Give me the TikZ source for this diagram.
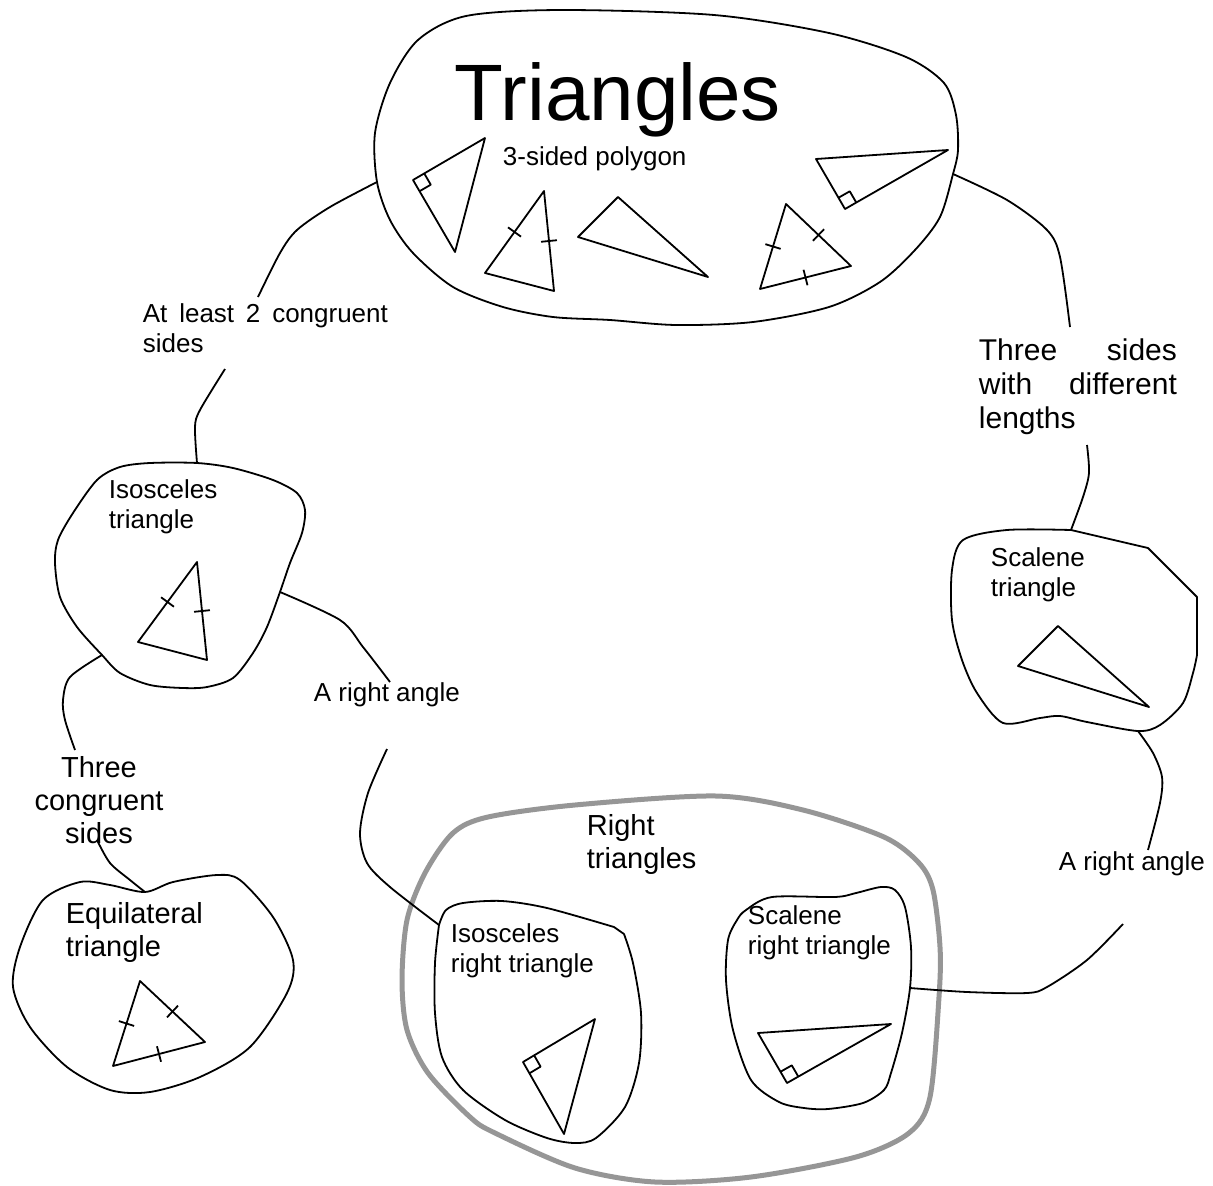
\documentclass[tikz,border=0pt]{standalone}
\usepackage{fontspec}
\setmainfont{Liberation Sans}
\usetikzlibrary{calc}
\definecolor{rimgray}{RGB}{150,150,150}

\begin{document}
\begin{tikzpicture}[x=1pt,y=-1pt,line width=1.8pt,line join=round,
  lab/.style={inner sep=0pt,font=\fontsize{26}{30}\selectfont},
  biglab/.style={inner sep=0pt,font=\fontsize{29}{33}\selectfont},
  rim/.style={line width=5pt,color=rimgray}]

\useasboundingbox (0,0) rectangle (1213,1186);

\coordinate (c1a) at (377,182); \coordinate (c1b) at (258,297);
\coordinate (c2a) at (225,369); \coordinate (c2b) at (197,463);
\coordinate (c3a) at (102,655); \coordinate (c3b) at (75,750);
\coordinate (c4a) at (97,840);  \coordinate (c4b) at (145,892);
\coordinate (c5a) at (280,592); \coordinate (c5b) at (390,682);
\coordinate (c6a) at (387,749); \coordinate (c6b) at (439,925);
\coordinate (c7a) at (953,174); \coordinate (c7b) at (1070,327);
\coordinate (c8a) at (1087,445); \coordinate (c8b) at (1071,530);
\coordinate (c9a) at (1138,731); \coordinate (c9b) at (1148,850);
\coordinate (c10a) at (1123,924); \coordinate (c10b) at (910,988);

\draw[rim] plot[smooth cycle] coordinates {(575,805) (716,796) (803,810) (884,837) (919,863) (933,890) (940,947) (939,997) (930,1097) (909,1133) (856,1157) (751,1177) (655,1182) (575,1168) (495,1133) (470,1117) (428,1073) (407,1030) (402,980) (407,920) (425,873) (453,833) (488,817)};

\draw plot[smooth cycle] coordinates {(c1a) (375,133) (390,83) (418,40) (466,16) (561,10) (714,15) (829,33) (906,57) (944,83) (956,115) (958,150) (c7a) (940,217) (915,250) (880,282) (829,307) (753,322) (676,325) (610,320) (553,317) (503,307) (453,287) (413,253) (390,220)};
\draw plot[smooth cycle] coordinates {(c2b) (233,468) (273,480) (297,493) (305,510) (302,533) (290,563) (c5a) (267,627) (253,653) (233,678) (207,687) (183,688) (150,685) (120,673) (c3a) (77,627) (60,597) (55,563) (58,540) (73,513) (97,480) (120,467) (150,463)};
\draw plot[smooth cycle] coordinates {(c4b) (110,885) (80,882) (43,900) (20,947) (13,987) (30,1027) (67,1067) (110,1090) (150,1092) (200,1077) (250,1047) (287,993) (293,960) (273,917) (240,880) (217,875) (173,882)};
\draw plot[smooth] coordinates {(1197,655) (1193,673) (1183,703) (1160,725) (c9a) (1087,722) (1060,716) (1040,718) (1003,723) (977,693) (962,660) (952,620) (952,570) (963,540) (1007,530) (c8b)} -- (1148,548) -- (1197,597) -- cycle;
\draw plot[smooth] coordinates {(c6b) (446,910) (463,903) (502,901) (547,908) (614,927)} -- plot[smooth] coordinates {(624,934) (633,963) (641,1013) (639,1063) (625,1107) (596,1138) (575,1143) (547,1138) (505,1120) (463,1090) (442,1057) (435,1013) (435,963) (c6b)};
\draw plot[smooth cycle] coordinates {(746,910) (772,897) (835,897) (856,893) (881,887) (895,890) (905,907) (911,947) (c10b) (902,1033) (891,1073) (884,1090) (863,1103) (828,1109) (804,1108) (779,1102) (751,1080) (733,1030) (726,980) (728,940) (737,920)};

\foreach \i/\a/\b/\c in {1/{413,180}/{485,138}/{455,252}, 2/{544,191}/{485,273}/{554,291},
  3/{578,237}/{618,197}/{708,277}, 4/{786,204}/{760,289}/{851,266}, 5/{845,209}/{816,159}/{948,150},
  6/{197,562}/{138,642}/{207,660}, 7/{1058,626}/{1018,666}/{1149,707}, 8/{140,981}/{113,1066}/{205,1042},
  9/{523,1062}/{595,1019}/{564,1134}, 10/{787,1083}/{758,1033}/{891,1024}}
{
\coordinate (t\i a) at (\a);
\coordinate (t\i b) at (\b);
\coordinate (t\i c) at (\c);
\draw (t\i a) -- (t\i b) -- (t\i c) -- cycle;
}

\foreach \p/\q in {t2a/t2b, t2a/t2c, t4a/t4b, t4b/t4c, t4c/t4a, t6a/t6b, t6a/t6c, t8a/t8b, t8b/t8c, t8c/t8a}
{
\draw ($(\p)!0.5!(\q)!8pt!90:(\q)$) -- ($(\p)!0.5!(\q)!8pt!-90:(\q)$);
}

\foreach \v/\p/\q in {t1a/t1b/t1c, t5a/t5b/t5c, t9a/t9b/t9c, t10a/t10b/t10c}
{
\coordinate (sp) at ($(\v)!13pt!(\p)$);
\coordinate (sq) at ($(\v)!13pt!(\q)$);
\draw (sp) -- ($(sp)+(sq)-(\v)$) -- (sq);
}

\node[anchor=base west,inner sep=0pt,font=\fontsize{80}{90}\selectfont] (l0) at (454,120) {Triangles};
\node[lab,anchor=base west] (l1) at (502,165) {3-sided polygon};
\node[lab,anchor=north west,align=left] (l2) at (142,303) {\makebox[245pt][s]{At least 2 congruent}\\sides};
\node[inner sep=0pt,font=\fontsize{30}{34}\selectfont,anchor=north west,align=left] (l3) at (978,338) {\makebox[198pt][s]{Three sides}\\\makebox[198pt][s]{with different}\\lengths};
\node[lab,anchor=north west,align=left] (l4) at (108,479) {Isosceles\\triangle};
\node[lab,anchor=base west] (l5) at (313,701) {A right angle};
\node[biglab,anchor=north,align=center] (l6) at (99,756) {Three\\congruent\\sides};
\node[biglab,anchor=north west,align=left] (l7) at (65,902) {Equilateral\\triangle};
\node[lab,anchor=north west,align=left] (l8) at (990,547) {Scalene\\triangle};
\node[lab,anchor=base west] (l9) at (1058,870) {A right angle};
\node[biglab,anchor=north west,align=left] (l10) at (586,814) {Right\\triangles};
\node[lab,anchor=north west,align=left] (l11) at (450,923) {Isosceles\\right triangle};
\node[lab,anchor=north west,align=left] (l12) at (747,905) {Scalene\\right triangle};

\draw plot[smooth] coordinates {(c1a) (330,207) (297,230) (280,253) (c1b)};
\draw plot[smooth] coordinates {(c2a) (200,410) (195,427) (c2b)};
\draw plot[smooth] coordinates {(c3a) (70,677) (63,700) (65,720) (c3b)};
\draw plot[smooth] coordinates {(c4a) (110,863) (130,880) (c4b)};
\draw plot[smooth] coordinates {(c5a) (340,620) (363,647) (c5b)};
\draw plot[smooth] coordinates {(c6a) (368,793) (360,833) (367,863) (390,887) (c6b)};
\draw plot[smooth] coordinates {(c7a) (1007,200) (1047,230) (1060,257) (c7b)};
\draw plot[smooth] coordinates {(c8a) (1089,473) (1083,497) (c8b)};
\draw plot[smooth] coordinates {(c9a) (1153,753) (1162,777) (1160,803) (c9b)};
\draw plot[smooth] coordinates {(c10a) (1087,960) (1047,987) (1027,993) (967,992) (c10b)};
\end{tikzpicture}
\end{document}
